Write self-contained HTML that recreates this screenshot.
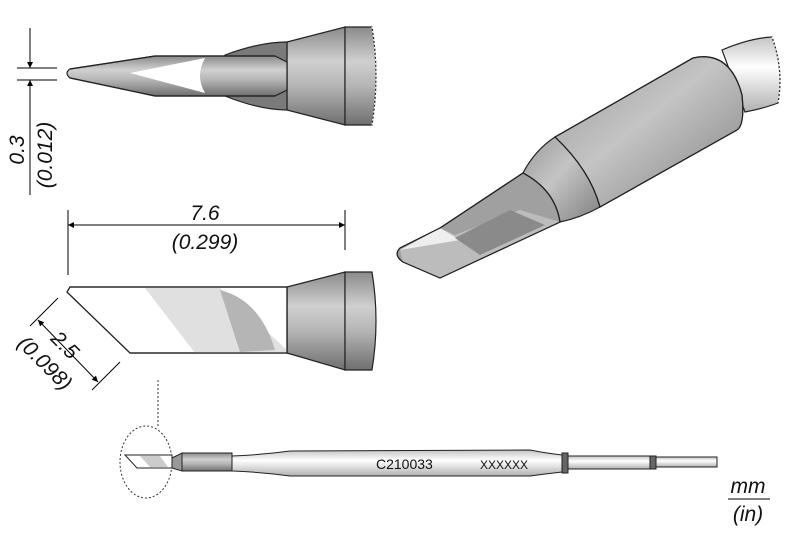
<!DOCTYPE html>
<html><head><style>
body{margin:0;background:#fff;}
svg{display:block;font-family:"Liberation Sans",sans-serif;}
</style></head><body>
<svg width="800" height="533" viewBox="0 0 800 533">
<defs>
<linearGradient id="gv" x1="0" y1="0" x2="0" y2="1">
<stop offset="0" stop-color="#8a8a8a"/><stop offset="0.35" stop-color="#d0d0d0"/><stop offset="0.6" stop-color="#b5b5b5"/><stop offset="1" stop-color="#6f6f6f"/></linearGradient>
<linearGradient id="gi" x1="0" y1="0" x2="1" y2="1">
<stop offset="0" stop-color="#9a9a9a"/><stop offset="0.45" stop-color="#c4c4c4"/><stop offset="1" stop-color="#808080"/></linearGradient>
<linearGradient id="gh" x1="0" y1="0" x2="0" y2="1">
<stop offset="0" stop-color="#c4c4c4"/><stop offset="0.4" stop-color="#fff"/><stop offset="1" stop-color="#b0b0b0"/></linearGradient>
<marker id="ar" viewBox="0 0 10 10" refX="10" refY="5" markerWidth="11" markerHeight="6" orient="auto-start-reverse" markerUnits="userSpaceOnUse"><path d="M0,0L10,5L0,10z" fill="#000"/></marker>
</defs>
<g stroke="#222" stroke-width="1.2">
<path d="M287,42 L345,27 L345,125 L287,110 Z" fill="url(#gv)"/>
<path d="M345,27 L372,27 Q380,76 372,125 L345,125 Z" fill="url(#gv)"/>
<path d="M372,27 Q380,76 372,125" fill="none" stroke="#fff" stroke-dasharray="2,2"/>
<path d="M225,55 Q260,42 287,42 L287,110 Q260,110 225,96 Z" fill="#7a7a7a"/>
<path d="M155,56 L275,56 L287,62 L287,90 L275,96 L155,96 L70,78 Q64,73 70,69 Z" fill="url(#gv)"/>
<path d="M130,73 L205,58 Q195,76 205,93 Z" fill="#fff" stroke="none"/>
<path d="M70,69 L155,56 L275,56 M70,78 L155,96 L275,96" fill="none"/>
<path d="M287,287 L345,272 L345,370 L287,353 Z" fill="url(#gv)"/>
<path d="M345,272 L372,272 Q380,321 372,370 L345,370 Z" fill="url(#gv)"/>
<path d="M70,287 L287,287 L287,353 L130,353 L67,292 Z" fill="#fff"/>
<path d="M145,288 L220,288 L287,350 L287,353 L195,353 Z" fill="#e0e0e0" stroke="none"/>
<path d="M220,290 Q260,300 275,350 L240,352 Z" fill="#b5b5b5" stroke="none"/>
<path d="M70,287 L287,287 L287,353 L130,353 L67,292 Z" fill="none"/>
</g>
<g stroke="#000" stroke-width="1" fill="none">
<line x1="17" y1="68" x2="57" y2="68"/><line x1="17" y1="80" x2="57" y2="80"/>
<line x1="30" y1="28" x2="30" y2="68" marker-end="url(#ar)"/>
<line x1="30" y1="195" x2="30" y2="80" marker-end="url(#ar)"/>
<line x1="68" y1="210" x2="68" y2="275"/><line x1="345" y1="210" x2="345" y2="250"/>
<line x1="68" y1="225" x2="345" y2="225" marker-start="url(#ar)" marker-end="url(#ar)"/>
<line x1="58" y1="298" x2="30" y2="326"/><line x1="120" y1="362" x2="92" y2="390"/>
<line x1="38" y1="320" x2="98" y2="382" marker-start="url(#ar)" marker-end="url(#ar)"/>
</g>
<g font-style="italic" font-size="21" fill="#111">
<text x="205" y="220" text-anchor="middle">7.6</text>
<text x="205" y="249" text-anchor="middle">(0.299)</text>
<text transform="translate(24,150) rotate(-90)" text-anchor="middle">0.3</text>
<text transform="translate(52,155) rotate(-90)" text-anchor="middle">(0.012)</text>
<text transform="translate(60,350) rotate(45)" text-anchor="middle">2.5</text>
<text transform="translate(40,368) rotate(45)" text-anchor="middle">(0.098)</text>
<text x="748" y="493" text-anchor="middle">mm</text>
<text x="748" y="521" text-anchor="middle">(in)</text>
</g>
<line x1="728" y1="499" x2="770" y2="499" stroke="#000"/>
<g stroke="#222" stroke-width="1.2">
<path d="M722,50 Q750,38 772,37 Q784,70 778,103 Q765,108 745,112 Z" fill="url(#gh)"/>
<path d="M772,37 Q784,70 778,103" fill="none" stroke="#fff" stroke-dasharray="2,2"/>
<path d="M555,137 L693,58 Q730,50 742,95 Q745,125 737,130 L600,207 Q590,170 555,137 Z" fill="url(#gi)"/>
<path d="M523,173 Q535,150 555,137 Q590,170 600,207 Q580,218 560,222 Q555,190 523,173 Z" fill="url(#gi)"/>
<path d="M440,228 L523,173 Q555,190 560,222 L440,278 L403,262 Q393,255 400,248 Z" fill="#a0a0a0"/>
<path d="M400,250 L440,228 L455,235 L520,210 L560,222 L440,278 L403,262 Z" fill="#bcbcbc" stroke="none"/>
<path d="M400,250 L440,228 L460,240 Z" fill="#eee" stroke="none"/>
<path d="M455,238 L510,210 L545,225 L480,255 Z" fill="#8a8a8a" stroke="none"/>
<path d="M440,228 L523,173 Q555,190 560,222 L440,278 L403,262 Q393,255 400,248 Z" fill="none"/>
<path d="M555,137 L693,58 Q730,50 742,95 Q745,125 737,130 L600,207 Q590,170 555,137 Z" fill="none"/>
</g>
<line x1="158" y1="380" x2="158" y2="427" stroke="#333" stroke-dasharray="2,2"/>
<ellipse cx="146" cy="462" rx="26" ry="36" fill="none" stroke="#333" stroke-dasharray="2,2"/>
<g stroke="#222" stroke-width="1">
<path d="M232,456 Q260,455 290,451 L530,450 Q545,453 562,455 L562,472 Q545,474 530,476 L290,476 Q260,472 232,471 Z" fill="url(#gh)"/>
<rect x="562" y="453" width="6" height="20" fill="#666"/>
<rect x="568" y="456" width="82" height="13" fill="url(#gh)"/>
<rect x="650" y="456" width="6" height="13" fill="#666"/>
<rect x="656" y="457" width="61" height="10" fill="url(#gh)"/>
<rect x="182" y="453" width="50" height="18" fill="url(#gv)"/>
<path d="M172,458 L182,453 L182,471 L172,468 Z" fill="#999"/>
<path d="M125,455 L172,455 L172,468 L137,468 Z" fill="#fff"/>
<path d="M140,456 L160,456 L168,467 L150,467 Z" fill="#ccc" stroke="none"/>
</g>
<text x="376" y="469" font-size="14" fill="#111">C210033</text>
<text x="480" y="469" font-size="12" fill="#111">XXXXXX</text>
</svg>
</body></html>
